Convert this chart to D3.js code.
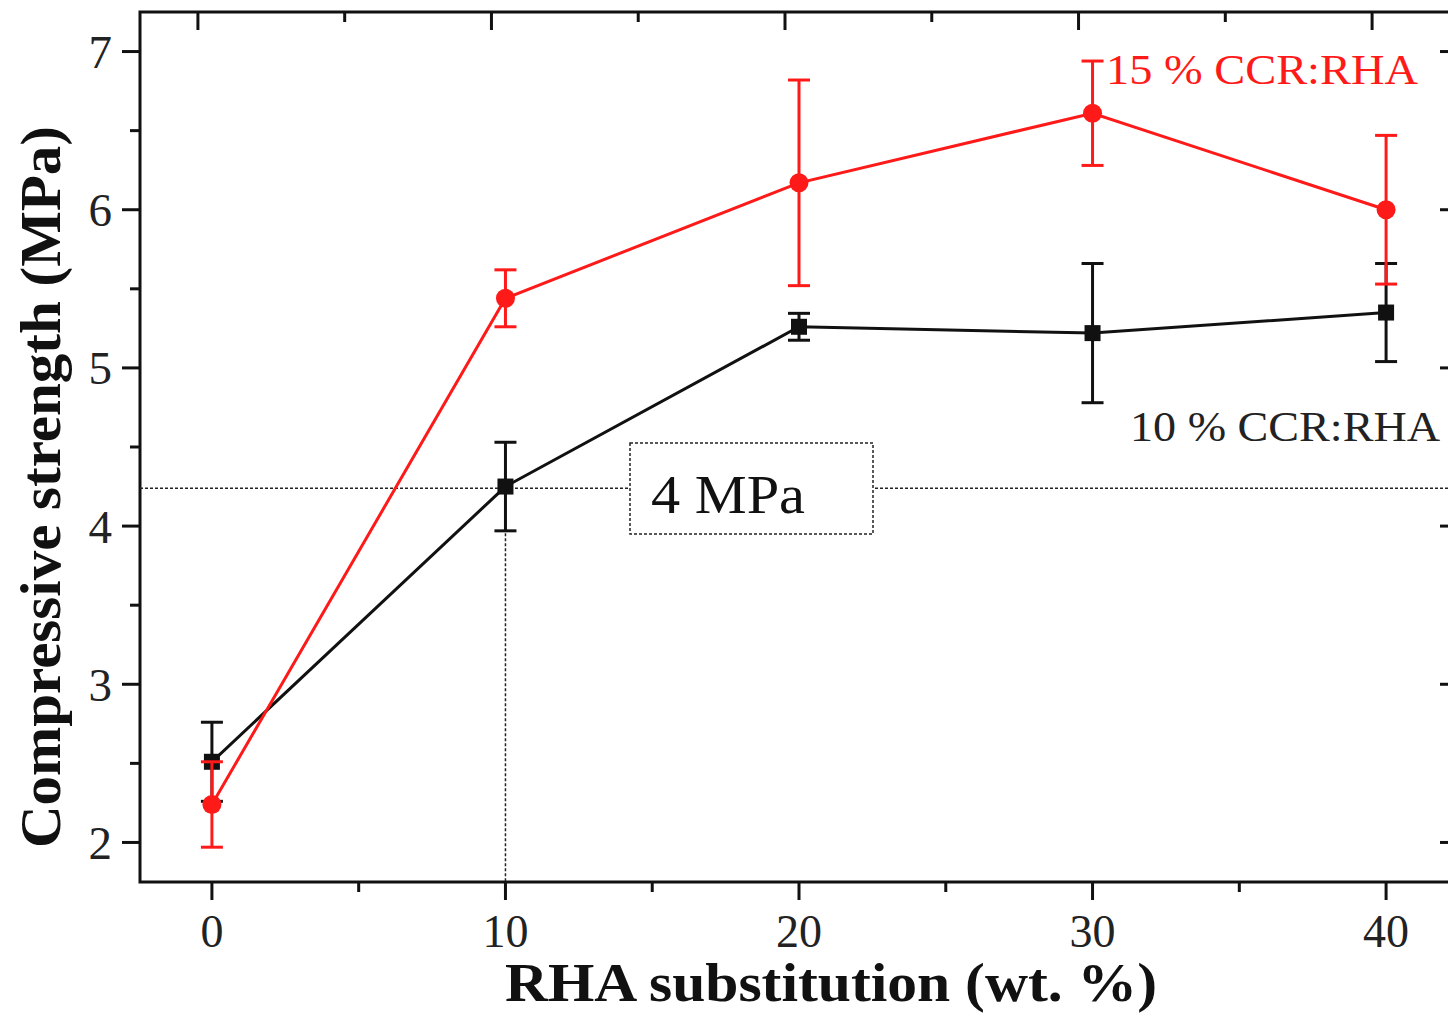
<!DOCTYPE html>
<html>
<head>
<meta charset="utf-8">
<script src="https://cdn.jsdelivr.net/npm/d3@7"></script>
<style>
  body { margin: 0; background: #fff; }
  svg { display: block; font-family: "Liberation Serif", "Times New Roman", serif; }
</style>
</head>
<body>
<svg id="chart" width="1448" height="1013"></svg>
<script>
// data
const rha = [0, 10, 20, 30, 40];
const ccr15 = [2.24, 5.44, 6.17, 6.61, 6.0];
const ccr15Err = [0.27, 0.18, 0.65, 0.33, 0.47];
const ccr10 = [2.51, 4.25, 5.26, 5.22, 5.35];
const ccr10Err = [0.25, 0.28, 0.085, 0.44, 0.31];
const xTicks = [0, 10, 20, 30, 40];
const xMinor = [5, 15, 25, 35];
const yTicks = [2, 3, 4, 5, 6, 7];
const yMinor = [2.5, 3.5, 4.5, 5.5, 6.5];
const guideValue = 4.24;
const guideX = 10;

const svg = d3.select("#chart");
const plotL = 140, plotR = 1458, plotT = 12, plotB = 882;

const x = d3.scaleLinear().domain([-2.45, 42.45]).range([plotL, plotR]);
const y = d3.scaleLinear().domain([1.75, 7.25]).range([plotB, plotT]);
// top axis in the original figure is shifted a bit to the left
const xTop = d3.scaleLinear().domain([-2.45, 42.45]).range([plotL - 14, plotR - 14]);

// frame
svg.append("rect")
    .attr("x", plotL).attr("y", plotT)
    .attr("width", plotR - plotL).attr("height", plotB - plotT)
    .attr("fill", "none").attr("stroke", "#111").attr("stroke-width", 3);

// bottom axis ticks (outward)
svg.append("g").selectAll("line").data(xTicks).enter().append("line")
    .attr("x1", d => x(d)).attr("x2", d => x(d))
    .attr("y1", plotB).attr("y2", plotB + 18)
    .attr("stroke", "#111").attr("stroke-width", 3);
svg.append("g").selectAll("line").data(xMinor).enter().append("line")
    .attr("x1", d => x(d)).attr("x2", d => x(d))
    .attr("y1", plotB).attr("y2", plotB + 10)
    .attr("stroke", "#111").attr("stroke-width", 3);
svg.append("g").selectAll("text").data(xTicks).enter().append("text")
    .attr("x", d => x(d)).attr("y", 947)
    .attr("text-anchor", "middle")
    .attr("font-size", 46).attr("fill", "#222")
    .text(d => d);

// top axis ticks (inward)
svg.append("g").selectAll("line").data(xTicks).enter().append("line")
    .attr("x1", d => xTop(d)).attr("x2", d => xTop(d))
    .attr("y1", plotT).attr("y2", plotT + 18)
    .attr("stroke", "#111").attr("stroke-width", 3);
svg.append("g").selectAll("line").data(xMinor).enter().append("line")
    .attr("x1", d => xTop(d)).attr("x2", d => xTop(d))
    .attr("y1", plotT).attr("y2", plotT + 10)
    .attr("stroke", "#111").attr("stroke-width", 3);

// left axis ticks (outward)
svg.append("g").selectAll("line").data(yTicks).enter().append("line")
    .attr("x1", plotL - 18).attr("x2", plotL)
    .attr("y1", d => y(d)).attr("y2", d => y(d))
    .attr("stroke", "#111").attr("stroke-width", 3);
svg.append("g").selectAll("line").data(yMinor).enter().append("line")
    .attr("x1", plotL - 10).attr("x2", plotL)
    .attr("y1", d => y(d)).attr("y2", d => y(d))
    .attr("stroke", "#111").attr("stroke-width", 3);
svg.append("g").selectAll("text").data(yTicks).enter().append("text")
    .attr("x", 112).attr("y", d => y(d))
    .attr("dy", "0.35em")
    .attr("text-anchor", "end")
    .attr("font-size", 47).attr("fill", "#222")
    .text(d => d);

// right axis ticks (inward)
svg.append("g").selectAll("line").data(yTicks).enter().append("line")
    .attr("x1", plotR - 18).attr("x2", plotR)
    .attr("y1", d => y(d)).attr("y2", d => y(d))
    .attr("stroke", "#111").attr("stroke-width", 3);
svg.append("g").selectAll("line").data(yMinor).enter().append("line")
    .attr("x1", plotR - 10).attr("x2", plotR)
    .attr("y1", d => y(d)).attr("y2", d => y(d))
    .attr("stroke", "#111").attr("stroke-width", 3);

// axis titles (the source figure is stretched sideways, so fix the lengths)
svg.append("text")
    .attr("x", 505).attr("y", 1001)
    .attr("font-size", 54).attr("font-weight", "bold").attr("fill", "#111")
    .attr("textLength", 652).attr("lengthAdjust", "spacingAndGlyphs")
    .text("RHA substitution (wt. %)");
svg.append("text")
    .attr("transform", "translate(60,848) rotate(-90)")
    .attr("font-size", 56).attr("font-weight", "bold").attr("fill", "#111")
    .attr("textLength", 722).attr("lengthAdjust", "spacingAndGlyphs")
    .text("Compressive strength (MPa)");

// guide lines
svg.append("line")
    .attr("x1", plotL).attr("x2", plotR)
    .attr("y1", y(guideValue)).attr("y2", y(guideValue))
    .attr("stroke", "#222").attr("stroke-width", 1.5).attr("stroke-dasharray", "3,2");
svg.append("line")
    .attr("x1", x(guideX)).attr("x2", x(guideX))
    .attr("y1", y(guideValue)).attr("y2", plotB)
    .attr("stroke", "#222").attr("stroke-width", 1.5).attr("stroke-dasharray", "3,2");

// 4 MPa box
svg.append("rect")
    .attr("x", 630).attr("y", 443).attr("width", 243).attr("height", 91)
    .attr("fill", "#fff").attr("stroke", "#222").attr("stroke-width", 1.5)
    .attr("stroke-dasharray", "3,2");
svg.append("text")
    .attr("x", 651).attr("y", 513)
    .attr("font-size", 54).attr("fill", "#111")
    .attr("textLength", 154).attr("lengthAdjust", "spacingAndGlyphs")
    .text("4 MPa");

function drawSeries(vals, errs, color, marker) {
    const pts = rha.map((d, i) => ({ x: d, y: vals[i], e: errs[i] }));
    const g = svg.append("g");
    g.append("path")
        .datum(pts)
        .attr("fill", "none").attr("stroke", color).attr("stroke-width", 3)
        .attr("d", d3.line().x(d => x(d.x)).y(d => y(d.y)));
    g.selectAll(".eb").data(pts).enter().append("line")
        .attr("x1", d => x(d.x)).attr("x2", d => x(d.x))
        .attr("y1", d => y(d.y - d.e)).attr("y2", d => y(d.y + d.e))
        .attr("stroke", color).attr("stroke-width", 3);
    [1, -1].forEach(s => {
        g.selectAll(".cap").data(pts).enter().append("line")
            .attr("x1", d => x(d.x) - 11).attr("x2", d => x(d.x) + 11)
            .attr("y1", d => y(d.y + s * d.e)).attr("y2", d => y(d.y + s * d.e))
            .attr("stroke", color).attr("stroke-width", 3);
    });
    if (marker === "circle") {
        g.selectAll("circle").data(pts).enter().append("circle")
            .attr("cx", d => x(d.x)).attr("cy", d => y(d.y)).attr("r", 9.5)
            .attr("fill", color);
    } else {
        g.selectAll("rect").data(pts).enter().append("rect")
            .attr("x", d => x(d.x) - 8).attr("y", d => y(d.y) - 8)
            .attr("width", 16).attr("height", 16)
            .attr("fill", color);
    }
}

drawSeries(ccr10, ccr10Err, "#111", "square");
drawSeries(ccr15, ccr15Err, "#ff1a1a", "circle");

// series labels
svg.append("text")
    .attr("x", 1106).attr("y", 84)
    .attr("font-size", 43).attr("fill", "#ff1a1a")
    .attr("textLength", 312).attr("lengthAdjust", "spacingAndGlyphs")
    .text("15 % CCR:RHA");
svg.append("text")
    .attr("x", 1130).attr("y", 441)
    .attr("font-size", 43).attr("fill", "#222")
    .attr("textLength", 310).attr("lengthAdjust", "spacingAndGlyphs")
    .text("10 % CCR:RHA");
</script>
</body>
</html>
